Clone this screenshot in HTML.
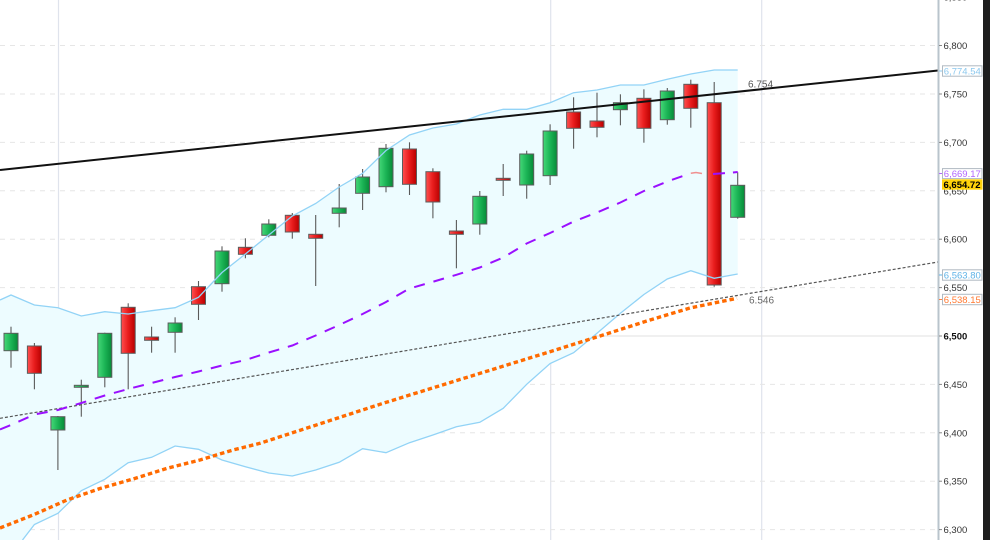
<!DOCTYPE html>
<html><head><meta charset="utf-8"><style>
html,body{margin:0;padding:0;background:#fff;width:990px;height:540px;overflow:hidden;}
svg{display:block;overflow:hidden;}
text{font-family:"Liberation Sans",Arial,sans-serif;}
</style></head><body>
<svg width="990" height="540" viewBox="0 0 990 540" xmlns="http://www.w3.org/2000/svg">
<defs>
<linearGradient id="gG" x1="0" x2="1" y1="0" y2="0">
<stop offset="0" stop-color="#45d878"/><stop offset="0.5" stop-color="#1bb455"/><stop offset="1" stop-color="#078a38"/>
</linearGradient>
<linearGradient id="gR" x1="0" x2="1" y1="0" y2="0">
<stop offset="0" stop-color="#ff5050"/><stop offset="0.5" stop-color="#e81c1c"/><stop offset="1" stop-color="#b80000"/>
</linearGradient>
<clipPath id="cp"><rect x="0" y="0" width="938" height="540"/></clipPath>
</defs>
<rect x="0" y="0" width="990" height="540" fill="#fff"/>
<g clip-path="url(#cp)">
<g stroke="#dfe3ec" stroke-width="1.2">
<line x1="58.5" y1="0" x2="58.5" y2="540"/>
<line x1="550.7" y1="0" x2="550.7" y2="540"/>
<line x1="761.7" y1="0" x2="761.7" y2="540"/>
</g>
<g stroke="#e6e6e6" stroke-width="1" stroke-dasharray="5 5">
<line x1="0" y1="45.5" x2="938" y2="45.5"/>
<line x1="0" y1="94" x2="938" y2="94"/>
<line x1="0" y1="142.4" x2="938" y2="142.4"/>
<line x1="0" y1="190.8" x2="938" y2="190.8"/>
<line x1="0" y1="239.2" x2="938" y2="239.2"/>
<line x1="0" y1="287.6" x2="938" y2="287.6"/>
<line x1="0" y1="384.4" x2="938" y2="384.4"/>
<line x1="0" y1="432.8" x2="938" y2="432.8"/>
<line x1="0" y1="481.2" x2="938" y2="481.2"/>
<line x1="0" y1="529.6" x2="938" y2="529.6"/>
</g>
<line x1="0" y1="336" x2="938" y2="336" stroke="#e2e2e2" stroke-width="1"/>
<polygon fill="#edfcff" points="0,300 11,295 34.4,305 57.9,307.7 81.3,316 104.8,311.7 128.2,314 151.6,310.7 175.1,307.7 198.5,297.3 222,272.5 245.4,254 268.8,235 292.3,216 315.7,203.5 339.2,187 362.6,173.3 386,150.5 409.5,135 432.9,128 456.4,124 479.8,115 503.2,109.3 526.7,109.3 550.1,102.7 573.6,92.7 597,90 620.4,85 643.9,85 667.3,79.3 690.8,74 714.2,70 737.7,70 737.7,274 714.2,278.3 690.8,270.7 667.3,279 643.9,294.5 620.4,313.3 597,333.3 573.6,352.7 550.1,363.5 526.7,384.3 503.2,408.3 479.8,422.3 456.4,426.7 432.9,435 409.5,442.7 386,452.7 362.6,448.7 339.2,462.3 315.7,470 292.3,476 268.8,473 245.4,466.7 222,460 198.5,449.3 175.1,446 151.6,457.3 128.2,462.7 104.8,479.3 81.3,490.7 57.9,513.3 34.4,524.5 22.5,540 0,540"/>
<g stroke="#5a5a5a" stroke-width="1.1">
<line x1="11" y1="326.7" x2="11" y2="367.7"/>
<line x1="34.4" y1="343" x2="34.4" y2="389.3"/>
<line x1="57.9" y1="416" x2="57.9" y2="470"/>
<line x1="81.3" y1="379.7" x2="81.3" y2="416.7"/>
<line x1="104.8" y1="332.7" x2="104.8" y2="387.3"/>
<line x1="128.2" y1="303.3" x2="128.2" y2="389.3"/>
<line x1="151.6" y1="326.7" x2="151.6" y2="352.7"/>
<line x1="175.1" y1="317.3" x2="175.1" y2="352.7"/>
<line x1="198.5" y1="281" x2="198.5" y2="320"/>
<line x1="222" y1="246.3" x2="222" y2="291.7"/>
<line x1="245.4" y1="238.3" x2="245.4" y2="258.3"/>
<line x1="268.8" y1="219.3" x2="268.8" y2="237.3"/>
<line x1="292.3" y1="213" x2="292.3" y2="238.7"/>
<line x1="315.7" y1="215" x2="315.7" y2="286"/>
<line x1="339.2" y1="184" x2="339.2" y2="227.3"/>
<line x1="362.6" y1="169" x2="362.6" y2="210"/>
<line x1="386" y1="144" x2="386" y2="192.3"/>
<line x1="409.5" y1="142.3" x2="409.5" y2="195"/>
<line x1="432.9" y1="168.3" x2="432.9" y2="218.3"/>
<line x1="456.4" y1="220" x2="456.4" y2="268.3"/>
<line x1="479.8" y1="191" x2="479.8" y2="234.7"/>
<line x1="503.2" y1="164" x2="503.2" y2="196"/>
<line x1="526.7" y1="150.7" x2="526.7" y2="198.7"/>
<line x1="550.1" y1="124.3" x2="550.1" y2="185"/>
<line x1="573.6" y1="97.3" x2="573.6" y2="148.7"/>
<line x1="597" y1="92.7" x2="597" y2="137.3"/>
<line x1="620.4" y1="94.3" x2="620.4" y2="125.3"/>
<line x1="643.9" y1="89.3" x2="643.9" y2="142.7"/>
<line x1="667.3" y1="88" x2="667.3" y2="124.7"/>
<line x1="690.8" y1="79.7" x2="690.8" y2="127.7"/>
<line x1="714.2" y1="82" x2="714.2" y2="286.7"/>
<line x1="737.7" y1="172.3" x2="737.7" y2="218.7"/>
</g>
<g stroke="#5c5c5c" stroke-width="1">
<rect x="4" y="333.3" width="14" height="17.4" fill="url(#gG)"/>
<rect x="27.4" y="346" width="14" height="27.3" fill="url(#gR)"/>
<rect x="50.9" y="416.7" width="14" height="13.3" fill="url(#gG)"/>
<rect x="74.3" y="385.3" width="14" height="2" fill="url(#gG)"/>
<rect x="97.8" y="333.3" width="14" height="44" fill="url(#gG)"/>
<rect x="121.2" y="307.3" width="14" height="46" fill="url(#gR)"/>
<rect x="144.6" y="337" width="14" height="3.3" fill="url(#gR)"/>
<rect x="168.1" y="323" width="14" height="9.3" fill="url(#gG)"/>
<rect x="191.5" y="286.7" width="14" height="17.6" fill="url(#gR)"/>
<rect x="215" y="251" width="14" height="32.7" fill="url(#gG)"/>
<rect x="238.4" y="247.3" width="14" height="7" fill="url(#gR)"/>
<rect x="261.8" y="224" width="14" height="11.3" fill="url(#gG)"/>
<rect x="285.3" y="215.3" width="14" height="16.7" fill="url(#gR)"/>
<rect x="308.7" y="234.3" width="14" height="4" fill="url(#gR)"/>
<rect x="332.2" y="208" width="14" height="5.3" fill="url(#gG)"/>
<rect x="355.6" y="177" width="14" height="16.3" fill="url(#gG)"/>
<rect x="379" y="148.3" width="14" height="38.4" fill="url(#gG)"/>
<rect x="402.5" y="149" width="14" height="35.3" fill="url(#gR)"/>
<rect x="425.9" y="171.7" width="14" height="30.3" fill="url(#gR)"/>
<rect x="449.4" y="231" width="14" height="3.3" fill="url(#gR)"/>
<rect x="472.8" y="196.3" width="14" height="27.7" fill="url(#gG)"/>
<rect x="496.2" y="178.3" width="14" height="2" fill="url(#gR)"/>
<rect x="519.7" y="154" width="14" height="31" fill="url(#gG)"/>
<rect x="543.1" y="131" width="14" height="44.7" fill="url(#gG)"/>
<rect x="566.6" y="112" width="14" height="16.3" fill="url(#gR)"/>
<rect x="590" y="121" width="14" height="6.3" fill="url(#gR)"/>
<rect x="613.4" y="102.7" width="14" height="7" fill="url(#gG)"/>
<rect x="636.9" y="98.3" width="14" height="30" fill="url(#gR)"/>
<rect x="660.3" y="91" width="14" height="28.7" fill="url(#gG)"/>
<rect x="683.8" y="84.3" width="14" height="24" fill="url(#gR)"/>
<rect x="707.2" y="102.7" width="14" height="182.3" fill="url(#gR)"/>
<rect x="730.7" y="185.3" width="14" height="32" fill="url(#gG)"/>
</g>
<g fill="none" stroke="#92d3f6" stroke-width="1.3">
<polyline points="0,300 11,295 34.4,305 57.9,307.7 81.3,316 104.8,311.7 128.2,314 151.6,310.7 175.1,307.7 198.5,297.3 222,272.5 245.4,254 268.8,235 292.3,216 315.7,203.5 339.2,187 362.6,173.3 386,150.5 409.5,135 432.9,128 456.4,124 479.8,115 503.2,109.3 526.7,109.3 550.1,102.7 573.6,92.7 597,90 620.4,85 643.9,85 667.3,79.3 690.8,74 714.2,70 737.7,70"/>
<polyline points="22.5,540 34.4,524.5 57.9,513.3 81.3,490.7 104.8,479.3 128.2,462.7 151.6,457.3 175.1,446 198.5,449.3 222,460 245.4,466.7 268.8,473 292.3,476 315.7,470 339.2,462.3 362.6,448.7 386,452.7 409.5,442.7 432.9,435 456.4,426.7 479.8,422.3 503.2,408.3 526.7,384.3 550.1,363.5 573.6,352.7 597,333.3 620.4,313.3 643.9,294.5 667.3,279 690.8,270.7 714.2,278.3 737.7,274"/>
</g>
<line x1="0" y1="170" x2="938" y2="70.5" stroke="#111" stroke-width="2"/>
<line x1="0" y1="418.3" x2="938" y2="262" stroke="#555" stroke-width="1.2" stroke-dasharray="3 2"/>
<polyline fill="none" stroke="#ff6a00" stroke-width="3.4" stroke-dasharray="4.5 3" points="0,528 33,515 67,500 100,488.5 133,479 167,468.3 200,460 233,450 260,443.3 383,403.3 550,351.7 600,336 650,320 690,308 714,303 737,298.3"/>
<polyline fill="none" stroke="#9a10ff" stroke-width="2" stroke-dasharray="11 9" points="0,429.5 11,425 34.4,414.5 57.9,410 81.3,403 104.8,395.5 128.2,389 151.6,383 175.1,377 198.5,371.5 222,365.5 245.4,360 268.8,352.5 292.3,345.5 315.7,335.5 339.2,325 362.6,314 386,302 409.5,288.5 432.9,281.8 456.4,274.8 479.8,267.5 503.2,257.5 526.7,243.5 550.1,233 573.6,221.5 597,212.5 620.4,202.5 643.9,191 667.3,181.5 690.8,173.3"/>
<polyline fill="none" stroke="#f09090" stroke-width="1.5" points="690.8,173.3 696,172.5 702,173.5"/>
<polyline fill="none" stroke="#9a10ff" stroke-width="2" stroke-dasharray="12 8" points="713,174 727,173 737.7,172"/>
<text x="748" y="87.5" font-size="10" fill="#555">6.754</text>
<text x="749" y="303.5" font-size="10" fill="#666">6.546</text>
</g>
<line x1="938.5" y1="0" x2="938.5" y2="540" stroke="#b9c4cc" stroke-width="2"/>
<g stroke="#888" stroke-width="1">
<line x1="939" y1="45.5" x2="942" y2="45.5"/>
<line x1="939" y1="94" x2="942" y2="94"/>
<line x1="939" y1="142.4" x2="942" y2="142.4"/>
<line x1="939" y1="239.2" x2="942" y2="239.2"/>
<line x1="939" y1="287.6" x2="942" y2="287.6"/>
<line x1="939" y1="336" x2="942" y2="336"/>
<line x1="939" y1="384.4" x2="942" y2="384.4"/>
<line x1="939" y1="432.8" x2="942" y2="432.8"/>
<line x1="939" y1="481.2" x2="942" y2="481.2"/>
<line x1="939" y1="529.6" x2="942" y2="529.6"/>
</g>
<g font-size="9.5" fill="#333">
<text x="943.5" y="0.5">6,850</text>
<text x="943.5" y="49">6,800</text>
<text x="943.5" y="97.5">6,750</text>
<text x="943.5" y="145.9">6,700</text>
<text x="943.5" y="194.3">6,650</text>
<text x="943.5" y="242.7">6,600</text>
<text x="943.5" y="291.1">6,550</text>
<text x="943.5" y="339.5" font-weight="bold" fill="#111">6,500</text>
<text x="943.5" y="387.9">6,450</text>
<text x="943.5" y="436.3">6,400</text>
<text x="943.5" y="484.7">6,350</text>
<text x="943.5" y="533.1">6,300</text>
</g>
<g font-size="9.5">
<line x1="939" y1="71" x2="942" y2="71" stroke="#8cc8ee"/>
<rect x="942.5" y="65.8" width="39.5" height="10.4" fill="#fff" stroke="#b0bac2" stroke-width="1"/>
<text x="943.8" y="74.5" fill="#8cc8ee">6,774.54</text>
<line x1="939" y1="173.5" x2="942" y2="173.5" stroke="#b266ff"/>
<rect x="942.5" y="168.6" width="39.5" height="10" fill="#fff" stroke="#b0bac2" stroke-width="1"/>
<text x="943.8" y="177" fill="#b266ff">6,669.17</text>
<rect x="942" y="179.3" width="40.5" height="10.4" fill="#ffd20a"/>
<text x="943.5" y="188" fill="#000" font-weight="bold">6,654.72</text>
<line x1="939" y1="275" x2="942" y2="275" stroke="#5fb3e6"/>
<rect x="942.5" y="269.8" width="39.5" height="10.4" fill="#fff" stroke="#b0bac2" stroke-width="1"/>
<text x="943.8" y="278.5" fill="#5fb3e6">6,563.80</text>
<line x1="939" y1="299.5" x2="942" y2="299.5" stroke="#ff8040"/>
<rect x="942.5" y="294.3" width="39.5" height="10.4" fill="#fff" stroke="#b0bac2" stroke-width="1"/>
<text x="943.8" y="303" fill="#ff7a33">6,538.15</text>
</g>
<rect x="983" y="0" width="7" height="540" fill="#1e1e1e"/>
</svg>
</body></html>
